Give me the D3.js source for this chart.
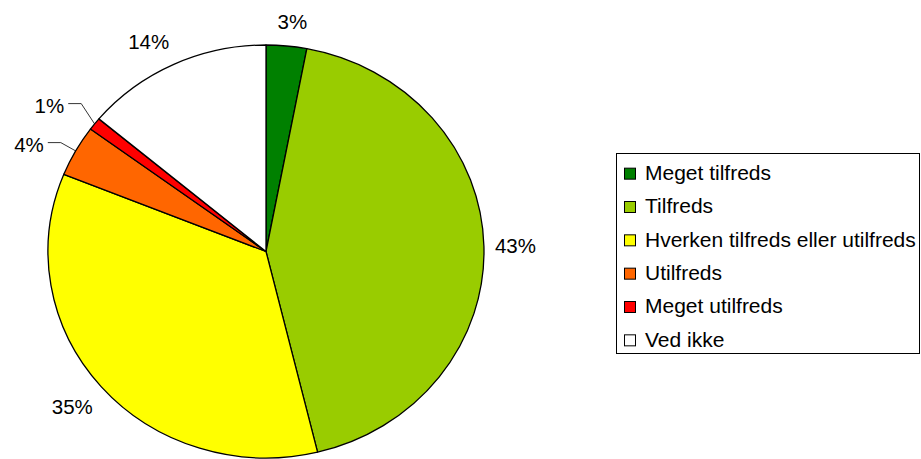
<!DOCTYPE html>
<html>
<head>
<meta charset="utf-8">
<script src="https://cdn.jsdelivr.net/npm/d3@7"></script>
<style>
  body { margin: 0; background: #fff; }
  text { font-family: "Liberation Sans", Arial, sans-serif; fill: #000; }
</style>
</head>
<body>
<svg id="chart"></svg>
<script>
// Tilfredshed - pie chart (slightly stretched horizontally) with legend

const categories = ["Meget tilfreds", "Tilfreds", "Hverken tilfreds eller utilfreds", "Utilfreds", "Meget utilfreds", "Ved ikke"];
const values = [3.0, 43.2, 34.9, 4.0, 1.0, 13.9];
const labels = ["3%", "43%", "35%", "4%", "1%", "14%"];
const colors = ["#008000", "#99cc00", "#ffff00", "#ff6600", "#ff0000", "#ffffff"];

const W = 921, H = 459;
const cx = 266, cy = 251.5, rx = 218, ry = 206.5;
const labelSize = 20.5, legendSize = 21;

const svg = d3.select("#chart").attr("width", W).attr("height", H);

const data = categories.map((c, i) => ({ name: c, value: values[i], label: labels[i], color: colors[i] }));

const pie = d3.pie().sort(null).value(d => d.value);
const arc = d3.arc().innerRadius(0).outerRadius(ry);
const arcs = pie(data);

// slices drawn on a circle, then stretched to the ellipse
const g = svg.append("g").attr("transform", `translate(${cx},${cy}) scale(${rx / ry},1)`);

g.selectAll("path.slice")
  .data(arcs)
  .enter().append("path")
  .attr("class", "slice")
  .attr("d", arc)
  .attr("fill", d => d.data.color)
  .attr("stroke", "#000")
  .attr("stroke-width", 1.3)
  .attr("stroke-linejoin", "round")
  .attr("vector-effect", "non-scaling-stroke");

const lg = svg.append("g").attr("transform", `translate(${cx},${cy})`);

// point on the ellipse grown by gap, angle a (0 = top, clockwise)
const ell = (a, gap) => [Math.sin(a) * (rx + gap), -Math.cos(a) * (ry + gap)];
const clamp = v => Math.max(-1, Math.min(1, v));

let prevY = null;
arcs.forEach(d => {
  const a = (d.startAngle + d.endAngle) / 2;
  const small = d.data.value < 5 && a > Math.PI;
  if (small) {
    // leader line for small slices on the left side, pushed up to avoid overlap
    const p0 = ell(a, 0);
    const p1 = ell(a, 17);
    if (prevY !== null && p1[1] > prevY - 39) p1[1] = prevY - 39;
    prevY = p1[1];
    const p2 = [p1[0] - 13, p1[1]];
    lg.append("polyline")
      .attr("points", [p0, p1, p2].map(p => p.join(",")).join(" "))
      .attr("fill", "none")
      .attr("stroke", "#000")
      .attr("stroke-width", 0.8);
    lg.append("text")
      .attr("x", p2[0] - 4)
      .attr("y", p2[1] + 2)
      .attr("dy", "0.35em")
      .attr("text-anchor", "end")
      .attr("font-size", labelSize)
      .text(d.data.label);
  } else {
    const e = ell(a, 11);
    const w = 41, h = 26;
    const tx = e[0] + clamp(Math.sin(a) * 2.5) * w / 2;
    const ty = e[1] - clamp(Math.cos(a) * 2) * h / 2;
    lg.append("text")
      .attr("x", tx)
      .attr("y", ty)
      .attr("dy", "0.35em")
      .attr("text-anchor", "middle")
      .attr("font-size", labelSize)
      .text(d.data.label);
  }
});

// Legend
const lx = 616, ly = 153, lw = 304, lh = 200;
const legend = svg.append("g");
legend.append("rect")
  .attr("x", lx + 0.5).attr("y", ly + 0.5)
  .attr("width", lw - 1).attr("height", lh)
  .attr("fill", "#fff").attr("stroke", "#000").attr("stroke-width", 1);

const rowY = d3.scaleBand().domain(categories).range([ly + 3, ly + 203]);

const items = legend.selectAll("g.item")
  .data(data)
  .enter().append("g")
  .attr("class", "item")
  .attr("transform", d => `translate(${lx + 8},${rowY(d.name) + rowY.bandwidth() / 2})`);

items.append("rect")
  .attr("x", 0.5).attr("y", -4.5)
  .attr("width", 11).attr("height", 11)
  .attr("fill", d => d.color)
  .attr("stroke", "#000").attr("stroke-width", 1);

items.append("text")
  .attr("x", 21)
  .attr("dy", "0.35em")
  .attr("font-size", legendSize)
  .text(d => d.name);
</script>
</body>
</html>
